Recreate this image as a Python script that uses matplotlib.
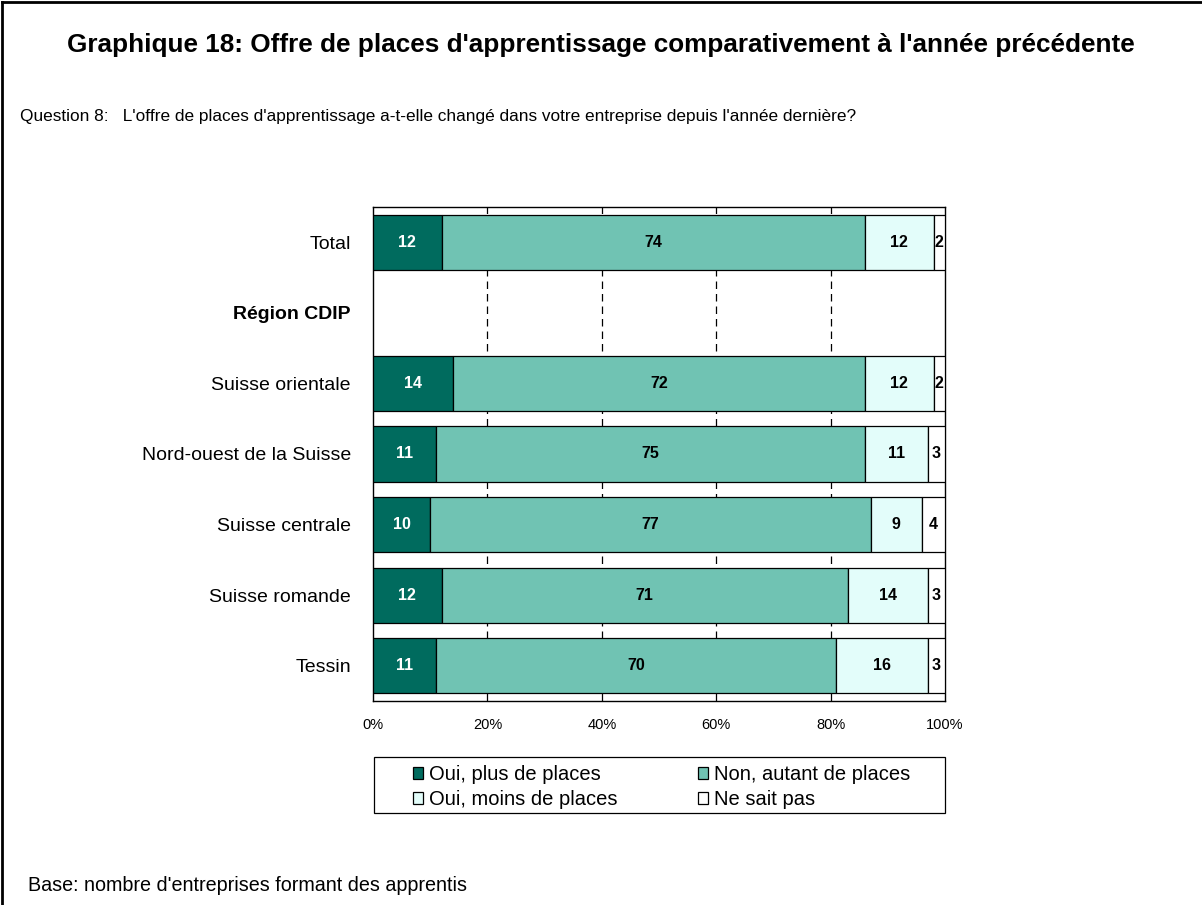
import numpy as np
import matplotlib.pyplot as plt
from matplotlib.lines import Line2D
from matplotlib.patches import Rectangle

plt.rcParams['font.family'] = ['Liberation Sans', 'DejaVu Sans']

categories = ['Total', 'Région CDIP', 'Suisse orientale', 'Nord-ouest de la Suisse',
              'Suisse centrale', 'Suisse romande', 'Tessin']
series_names = ['Oui, plus de places', 'Non, autant de places',
                'Oui, moins de places', 'Ne sait pas']
plus_places = [12, np.nan, 14, 11, 10, 12, 11]
autant_places = [74, np.nan, 72, 75, 77, 71, 70]
moins_places = [12, np.nan, 12, 11, 9, 14, 16]
ne_sait_pas = [2, np.nan, 2, 3, 4, 3, 3]
x_ticks = [0, 20, 40, 60, 80, 100]
x_tick_labels = ['0%', '20%', '40%', '60%', '80%', '100%']

colors = ['#006b5e', '#70c3b3', '#e3fdfa', '#ffffff']
text_colors = ['white', 'black', 'black', 'black']

fig = plt.figure(figsize=(12.02, 9.05), dpi=100)
ax = fig.add_axes([0.3103, 0.2254, 0.4759, 0.5459])

y = np.arange(len(categories))
left = np.zeros(len(categories))
series = [plus_places, autant_places, moins_places, ne_sait_pas]
handles = []
for vals, name, col, tcol in zip(series, series_names, colors, text_colors):
    v = np.array(vals, dtype=float)
    ok = ~np.isnan(v)
    h = ax.barh(y[ok], v[ok], left=left[ok], height=0.78, color=col,
                edgecolor='black', linewidth=0.9, label=name, zorder=3)
    handles.append(h)
    for yi in y[ok]:
        ax.text(left[yi] + v[yi] / 2, yi, f'{int(v[yi])}', ha='center', va='center',
                fontsize=11.5, fontweight='bold', color=tcol, zorder=4)
    left = left + np.nan_to_num(v)

ax.set_xlim(0, 100)
ax.set_ylim(len(categories) - 0.5, -0.5)
ax.set_xticks(x_ticks)
ax.set_xticklabels(x_tick_labels, fontsize=10.5)
ax.tick_params(axis='x', length=0, pad=12)
ax.set_yticks(y)
ax.set_yticklabels(categories, fontsize=14)
ax.tick_params(axis='y', length=0, pad=16)
ax.get_yticklabels()[1].set_fontweight('bold')
for xv in x_ticks[1:-1]:
    ax.axvline(xv, color='black', linestyle=(0, (6, 4)), linewidth=0.9, zorder=1)
for s in ax.spines.values():
    s.set_linewidth(1.0)

# legend: row-wise order like the original
order = [0, 2, 1, 3]
leg = fig.legend([handles[i] for i in order], [series_names[i] for i in order],
                 loc='upper left', bbox_to_anchor=(399 / 1202, 1 - 751 / 905), ncol=2,
                 fontsize=14.5, frameon=False,
                 handlelength=0.5, handleheight=0.5, handletextpad=0.3,
                 columnspacing=4.0, borderpad=0.2, labelspacing=0.3)
fig.add_artist(Rectangle((374 / 1202, 1 - 813 / 905), 571 / 1202, 56 / 905,
                         transform=fig.transFigure, fill=False, edgecolor='black', linewidth=0.9))

fig.text(0.5, 1 - 45 / 905, "Graphique 18: Offre de places d'apprentissage comparativement à l'année précédente",
         ha='center', va='center', fontsize=18.8, fontweight='bold')
fig.text(20 / 1202, 1 - 116 / 905,
         "Question 8:   L'offre de places d'apprentissage a-t-elle changé dans votre entreprise depuis l'année dernière?",
         ha='left', va='center', fontsize=12.4)
fig.text(28 / 1202, 1 - 885 / 905, "Base: nombre d'entreprises formant des apprentis",
         ha='left', va='center', fontsize=14.2)

# page border (top and left only)
fig.add_artist(Line2D([0.002, 0.002], [0, 0.998], transform=fig.transFigure, color='black', linewidth=2))
fig.add_artist(Line2D([0.002, 1], [0.998, 0.998], transform=fig.transFigure, color='black', linewidth=2))

fig.savefig('out.png', dpi=100)
